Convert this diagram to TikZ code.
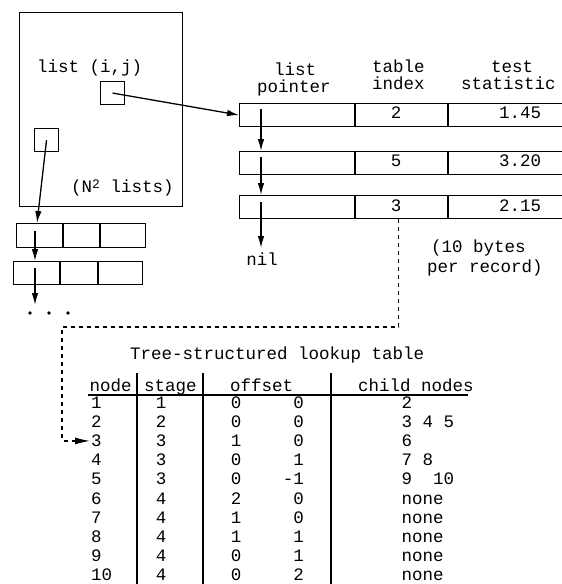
\documentclass[tikz,border=0pt]{standalone}
\usepackage{fontspec}
\newfontfamily\cour{Liberation Mono}
\usetikzlibrary{arrows.meta}
\begin{document}
\begin{tikzpicture}[x=1pt,y=-1pt,
  box/.style={draw, line width=1.1pt, inner sep=0pt, anchor=north west, minimum height=23pt},
  arr/.style={-{Latex[length=12pt,width=6.5pt]}, line width=1.3pt},
  txt/.style={inner sep=0pt, font=\cour\fontsize{17.5}{19}\selectfont},
  dsh/.style={dash pattern=on 4pt off 4pt, line width=1.2pt, -{Latex[length=15pt,width=7pt]}},
  rule/.style={line width=1.2pt}]
\useasboundingbox (0,0) rectangle (562,584);

% big square with its two cells
\node[box, minimum width=163pt, minimum height=194pt] (grid) at (19,12) {};
\node[box, minimum width=24pt] (cellij) at (100,81) {};
\node[box, minimum width=24pt] (cellk) at (34,128) {};
\node[txt, anchor=base west] (lij) at (37,72.5) {list (i,j)};
\node[txt, anchor=base west] (nlists) at (71,192) {(N\raisebox{4pt}{\fontsize{13}{13}\selectfont 2} lists)};

% right-hand records
\node[box, minimum width=115pt] (r1a) at (239,103) {};
\node[box, minimum width=92pt] (r1b) at (r1a.north east) {};
\node[box, minimum width=114pt] (r1c) at (r1b.north east) {};
\node[box, minimum width=115pt] (r2a) at (239,151) {};
\node[box, minimum width=92pt] (r2b) at (r2a.north east) {};
\node[box, minimum width=114pt] (r2c) at (r2b.north east) {};
\node[box, minimum width=115pt] (r3a) at (239,195) {};
\node[box, minimum width=92pt] (r3b) at (r3a.north east) {};
\node[box, minimum width=114pt] (r3c) at (r3b.north east) {};

\node[txt, anchor=base] (v1b) at (396,118.5) {2};
\node[txt, anchor=base] (v1c) at (520,118.5) {1.45};
\node[txt, anchor=base] (v2b) at (396,166.5) {5};
\node[txt, anchor=base] (v2c) at (520,166.5) {3.20};
\node[txt, anchor=base] (v3b) at (396,211.5) {3};
\node[txt, anchor=base] (v3c) at (520,211.5) {2.15};

\node[txt, anchor=base west] (h1a) at (274,75) {list};
\node[txt, anchor=base west] (h1b) at (257,92) {pointer};
\node[txt, anchor=base west] (h2a) at (372,72) {table};
\node[txt, anchor=base west] (h2b) at (372,89) {index};
\node[txt, anchor=base west] (h3a) at (491,72) {test};
\node[txt, anchor=base west] (h3b) at (461,89) {statistic};

\node[txt, anchor=base] (nil) at (262,265) {nil};
\coordinate (nilpt) at (261,248);
\node[txt, anchor=base west] (bytes1) at (431,252) {(10 bytes};
\node[txt, anchor=base west] (bytes2) at (427,272) {per record)};

% left-hand records
\node[box, minimum width=46pt, minimum height=24pt] (l1a) at (16,223) {};
\node[box, minimum width=36pt, minimum height=24pt] (l1b) at (l1a.north east) {};
\node[box, minimum width=45pt, minimum height=24pt] (l1c) at (l1b.north east) {};
\node[box, minimum width=46pt] (l2a) at (13,261) {};
\node[box, minimum width=37pt] (l2b) at (l2a.north east) {};
\node[box, minimum width=44pt] (l2c) at (l2b.north east) {};
\coordinate (lend) at (35,305);
\fill (30,313) circle (1.9pt) (49,313) circle (1.9pt) (68,313) circle (1.9pt);

% arrows
\draw[arr] (cellij.center) -- (r1a.west);
\draw[arr] (cellk.center) -- ([xshift=21pt]l1a.north west);
\draw[arr] ([shift={(22pt,-6pt)}]r1a.north west) -- ([xshift=22pt]r2a.north west);
\draw[arr] ([shift={(22pt,-6pt)}]r2a.north west) -- ([xshift=22pt]r3a.north west);
\draw[arr] ([shift={(22pt,-7pt)}]r3a.north west) -- (nilpt);
\draw[arr] ([shift={(19pt,-8pt)}]l1a.north west) -- ([xshift=22pt]l2a.north west);
\draw[arr] ([shift={(22pt,-7pt)}]l2a.north west) -- (lend);

% table
\node[txt, anchor=base west] (title) at (130,359) {Tree-structured lookup table};
\node[txt, anchor=base west] (hnode) at (89.5,391) {node};
\node[txt, anchor=base west] (hstage) at (144,391) {stage};
\node[txt, anchor=base west] (hoff) at (230,391) {offset};
\node[txt, anchor=base west] (hchild) at (358,391) {child nodes};
\coordinate (hl1) at (88,395); \coordinate (hl2) at (468,395);
\draw[rule] (hl1) -- (hl2);
\coordinate (va1) at (137,373); \coordinate (va2) at (137,584);
\coordinate (vb1) at (203,373); \coordinate (vb2) at (203,584);
\coordinate (vc1) at (331,373); \coordinate (vc2) at (331,584);
\draw[rule] (va1) -- (va2) (vb1) -- (vb2) (vc1) -- (vc2);

\foreach \a/\b/\c/\d/\e [count=\i] in {1/1/0/0/2, 2/2/0/0/3 4 5, 3/3/1/0/6, 4/3/0/1/7 8, 5/3/0/-1/9\ \ 10, 6/4/2/0/none, 7/4/1/0/none, 8/4/1/1/none, 9/4/0/1/none, 10/4/0/2/none}{
  \pgfmathsetmacro\yy{408.5+19.1*(\i-1)}
  \node[txt, anchor=base west] (nd\i) at (91,\yy) {\a};
  \node[txt, anchor=base] (st\i) at (161,\yy) {\b};
  \node[txt, anchor=base] (oa\i) at (236,\yy) {\c};
  \node[txt, anchor=base east] (ob\i) at (304,\yy) {\d};
  \node[txt, anchor=base west] (ch\i) at (401.5,\yy) {\e};
}

% dashed pointer to table row 3
\coordinate (dc1) at (62,327);
\draw[dsh] ([xshift=-3pt]r3b.south) |- (dc1) |- ([xshift=-1pt]nd3.west);
\end{tikzpicture}
\end{document}
